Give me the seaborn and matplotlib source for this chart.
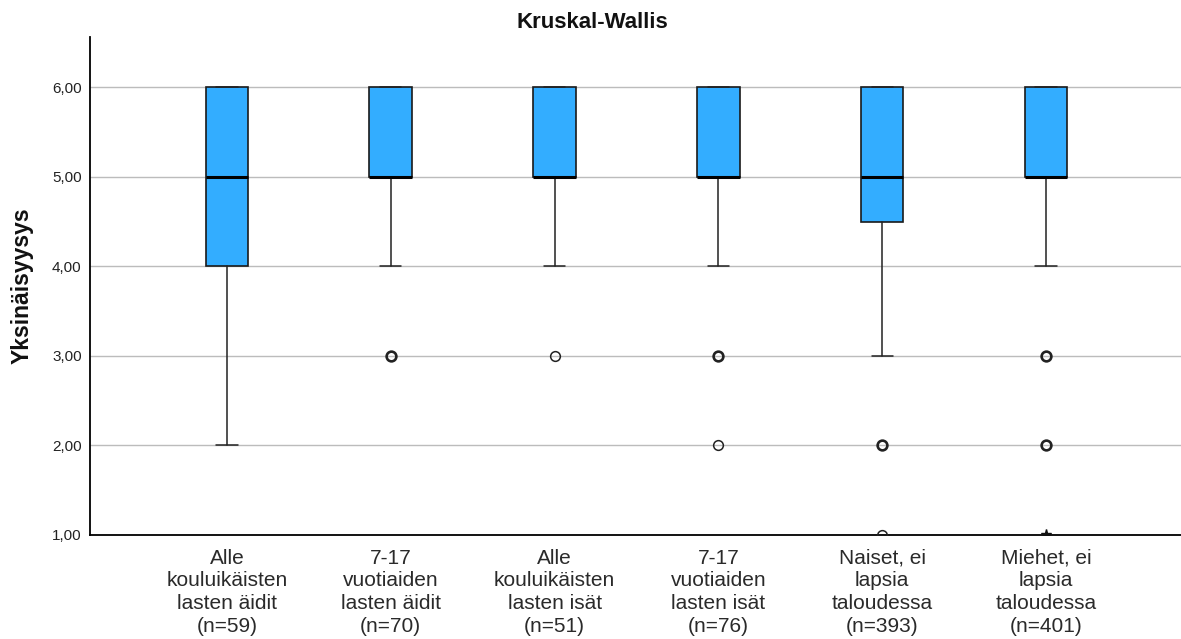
import matplotlib
matplotlib.use("Agg")
import matplotlib.pyplot as plt
import seaborn as sns

# Ryhmät ja laatikkokuvion tunnusluvut (luettu kuvasta)
groups = [
    "Alle\nkouluikäisten\nlasten äidit\n(n=59)",
    "7-17\nvuotiaiden\nlasten äidit\n(n=70)",
    "Alle\nkouluikäisten\nlasten isät\n(n=51)",
    "7-17\nvuotiaiden\nlasten isät\n(n=76)",
    "Naiset, ei\nlapsia\ntaloudessa\n(n=393)",
    "Miehet, ei\nlapsia\ntaloudessa\n(n=401)",
]
q1 = [4.0, 5.0, 5.0, 5.0, 4.5, 5.0]
median = [5.0, 5.0, 5.0, 5.0, 5.0, 5.0]
q3 = [6.0, 6.0, 6.0, 6.0, 6.0, 6.0]
whisker_lo = [2.0, 4.0, 4.0, 4.0, 3.0, 4.0]
whisker_hi = [6.0, 6.0, 6.0, 6.0, 6.0, 6.0]
outliers = [[], [3.0], [3.0], [3.0, 2.0], [2.0, 1.0], [3.0, 2.0]]
outlier_multi = [[], [True], [False], [True, False], [True, False], [True, True]]
extremes = [[], [], [], [], [], [1.0]]
yticks = [1, 2, 3, 4, 5, 6]

sns.set_style("white")
plt.rcParams['font.family'] = ['Liberation Sans', 'DejaVu Sans']

fig = plt.figure(figsize=(11.81, 6.39), dpi=100)
ax = fig.add_axes([90 / 1181, 1 - 535 / 639, 1 - 90 / 1181, (535 - 37) / 639])

stats = []
for i in range(len(groups)):
    stats.append({
        "med": median[i], "q1": q1[i], "q3": q3[i],
        "whislo": whisker_lo[i], "whishi": whisker_hi[i], "fliers": [],
    })

ax.bxp(stats, positions=range(len(groups)), widths=0.26, showfliers=False,
       patch_artist=True,
       boxprops=dict(facecolor="#33adff", edgecolor="#1a1a1a", linewidth=1.2),
       medianprops=dict(color="black", linewidth=2.2),
       whiskerprops=dict(color="#222222", linewidth=1.1),
       capprops=dict(color="#222222", linewidth=1.1),
       capwidths=0.13, zorder=3)

# poikkeavat ja ääriarvot
for i in range(len(groups)):
    for v, multi in zip(outliers[i], outlier_multi[i]):
        ax.plot(i, v, marker="o", markersize=7, markerfacecolor="none",
                markeredgecolor="#222222", markeredgewidth=1.9 if multi else 1.1,
                linestyle="none", zorder=4)
    for v in extremes[i]:
        ax.plot(i, v, marker="*", markersize=8, color="#111111",
                linestyle="none", zorder=4)

ax.set_xlim(-0.836, 5.824)
ax.set_ylim(1, 6.56)
ax.set_yticks(yticks)
ax.set_yticklabels([f"{t:.2f}".replace(".", ",") for t in yticks],
                   fontsize=11, color="#222222")
ax.set_xticks(range(len(groups)))
ax.set_xticklabels(groups, fontsize=15, color="#2a2a2a", linespacing=1.24)
ax.tick_params(axis="both", length=0)
ax.tick_params(axis="x", pad=10)
ax.tick_params(axis="y", pad=6)

ax.yaxis.grid(True, color="#bcbcbc", linewidth=1.0)
ax.set_axisbelow(True)
for side in ["top", "right"]:
    ax.spines[side].set_visible(False)
ax.spines["left"].set_color("black")
ax.spines["bottom"].set_color("black")
ax.spines["left"].set_linewidth(1.3)
ax.spines["bottom"].set_linewidth(1.3)

fig.text(592 / 1181, 1 - 22 / 639, "Kruskal-Wallis", ha="center", va="center",
         fontsize=16, fontweight="bold", color="#111111")
fig.text(22 / 1181, 1 - 286 / 639, "Yksinäisyysys", ha="center", va="center",
         rotation=90, fontsize=16.5, fontweight="bold", color="#111111")

fig.savefig("out.png", dpi=100)
